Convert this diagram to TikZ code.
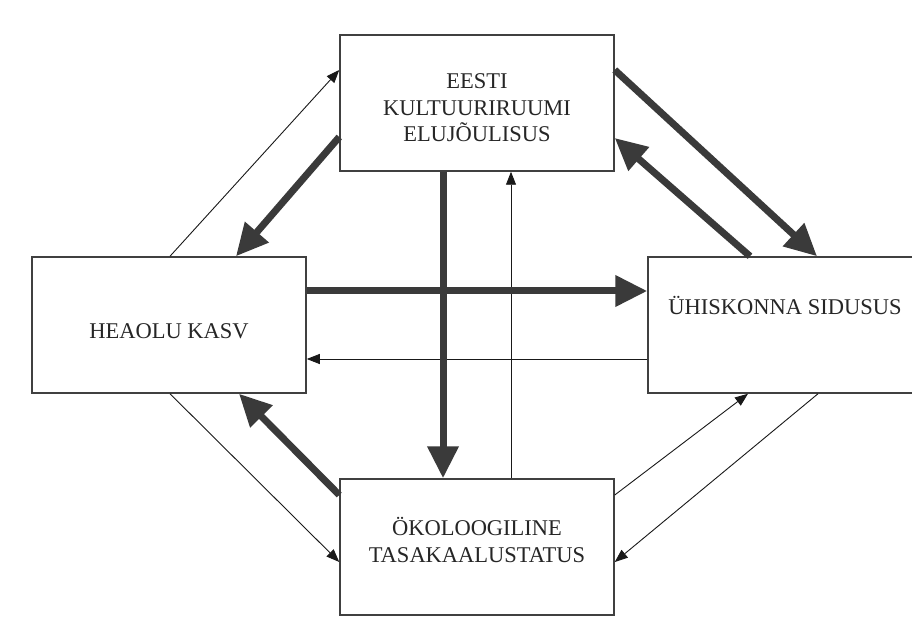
\documentclass[tikz,border=0pt]{standalone}
\usepackage{fontspec}
\setmainfont{Liberation Serif}
\usetikzlibrary{arrows.meta,calc}
\definecolor{boxline}{HTML}{404040}
\definecolor{thickcol}{HTML}{3A3A3A}
\begin{document}
\begin{tikzpicture}[x=1pt,y=-1pt,
  box/.style={draw=boxline,line width=1.5pt,fill=white,minimum width=274pt,minimum height=136pt,inner sep=0pt},
  lbl/.style={align=center,font=\fontsize{22.5}{26.5}\selectfont,text=black!85},
  thin/.style={draw=black!90,line width=0.9pt,-{Triangle[length=13pt,width=10pt]}},
  thick/.style={draw=thickcol,line width=7pt,-{Triangle[length=32pt,width=30pt]}}]
\useasboundingbox (0,0) rectangle (912,617);
\clip (0,0) rectangle (912,617);
\fill[white] (0,0) rectangle (912,617);
\node[box,label={[lbl,yshift=-5pt]center:EESTI\\KULTUURIRUUMI\\ELUJÕULISUS}] (top) at (477,103) {};
\node[box,label={[lbl,yshift=-6pt]center:HEAOLU KASV}] (left) at (169,325) {};
\node[box,label={[lbl,yshift=20pt]center:ÜHISKONNA SIDUSUS}] (right) at (785,325) {};
\node[box,label={[lbl,yshift=7pt]center:ÖKOLOOGILINE\\TASAKAALUSTATUS}] (bottom) at (477,547) {};
% thin connectors
\draw[thin] ($(left.north)+(1,0)$) -- ($(top.west)+(0,-33)$);
\draw[thin] ($(right.west)+(0,34)$) -- ($(left.east)+(0,34)$);
\draw[thin] ($(bottom.north)+(34,0)$) -- ($(top.south)+(34,0)$);
\draw[thin] ($(left.south)+(1,0)$) -- ($(bottom.west)+(0,15)$);
\draw[thin] ($(bottom.east)+(0,-52)$) -- ($(right.south)+(-37,0)$);
\draw[thin] ($(right.south)+(33,0)$) -- ($(bottom.east)+(0,15)$);
% thick connectors
\draw[thick] ($(top.west)+(0,34)$) -- ($(left.north)+(67,0)$);
\draw[thick] ($(top.east)+(0,-33)$) -- ($(right.north)+(32,0)$);
\draw[thick] ($(right.north)+(-35,0)$) -- ($(top.east)+(0,35)$);
\draw[thick] ($(left.east)+(0,-34)$) -- ($(right.west)+(0,-34)$);
\draw[thick] ($(top.south)+(-34,0)$) -- ($(bottom.north)+(-34,0)$);
\draw[thick] ($(bottom.west)+(0,-52)$) -- ($(left.south)+(70,0)$);
\end{tikzpicture}
\end{document}
